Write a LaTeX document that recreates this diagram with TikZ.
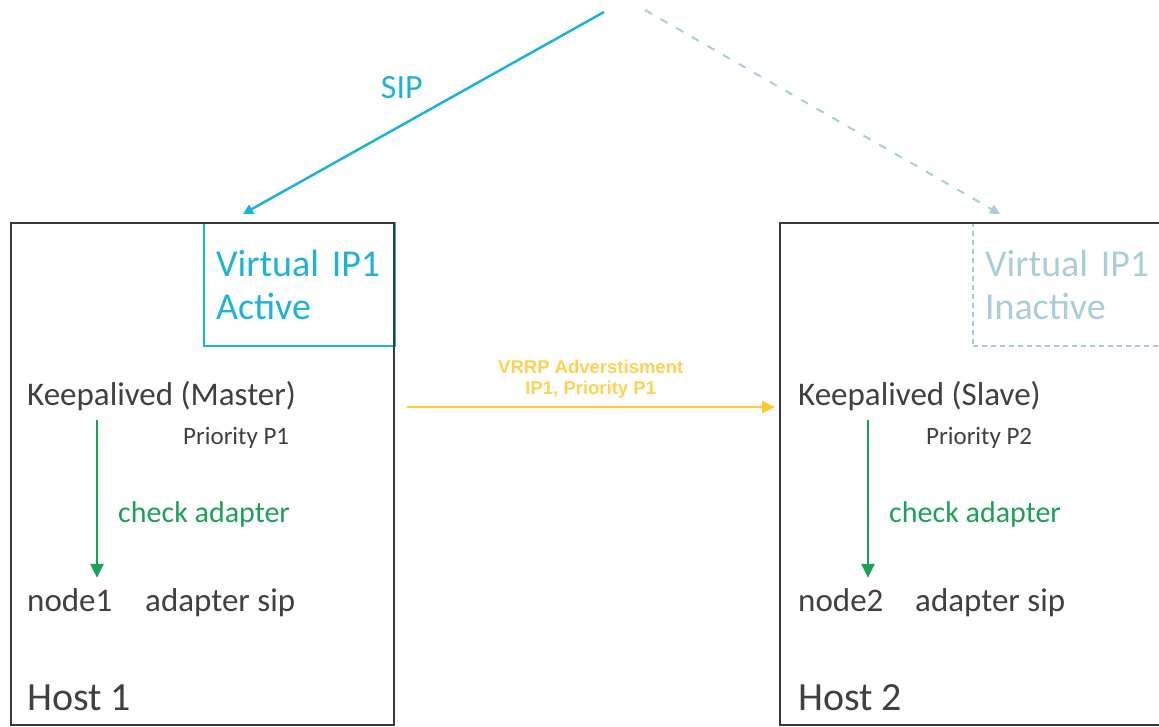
\documentclass[tikz,border=0pt]{standalone}
\usepackage{fontspec}
\setmainfont{Carlito}
\newfontfamily\arialfont{Liberation Sans}
\usepackage{xcolor}
\usetikzlibrary{arrows.meta, positioning}

\definecolor{sipblue}{HTML}{1DB2D9}
\definecolor{paleblue}{HTML}{A9CDD9}
\definecolor{textgray}{HTML}{404040}
\definecolor{boxgray}{HTML}{3A3A3A}
\definecolor{checkgreen}{HTML}{1BA157}
\definecolor{vrrpyellow}{HTML}{FFC933}

\begin{document}
\begin{tikzpicture}[
    x=1pt, y=-1pt,
    hostbox/.style={draw=boxgray, line width=1.5pt, anchor=north west, minimum height=502, inner sep=0pt},
    vipbox/.style={anchor=north west, minimum height=123, inner ysep=0pt, align=left, font=\fontsize{38}{43}\selectfont},
    label/.style={anchor=base west, inner sep=0pt, text=textgray},
    sigarrow/.style={-{Triangle[length=10pt, width=10pt]}, line width=2.5pt},
    checkarrow/.style={-{Triangle[length=14pt, width=13pt]}, line width=2.5pt, draw=checkgreen},
    keepfont/.style={font=\fontsize{33}{40}\selectfont},
    priofont/.style={font=\fontsize{25}{30}\selectfont},
    checklabel/.style={anchor=base west, inner sep=0pt, text=checkgreen, font=\fontsize{30}{36}\selectfont}
]
\clip (0,0) rectangle (1159,726);

% Virtual IP boxes (drawn first, host frames go over them)
\node[vipbox, draw=sipblue, line width=2pt, text=sipblue, minimum width=191, inner xsep=12pt, text width=167pt] (vip1) at (203,222) {Virtual IP1\\Active};
\node[vipbox, draw=paleblue, line width=2pt, dash pattern=on 5pt off 4pt, text=paleblue, minimum width=200, inner xsep=12pt, text width=176pt] (vip2) at (972,222) {Virtual IP1\\Inactive};

% Hosts
\node[hostbox, minimum width=383] (host1) at (10,222) {};
\node[hostbox, minimum width=420] (host2) at (779,222) {};

% Host 1 content
\node[label, keepfont] (keep1) at (27,405) {Keepalived (Master)};
\node[label, priofont] (prio1) at (183,444) {Priority P1};
\node[checklabel] (check1) at (118,522) {check adapter};
\node[label, keepfont] (node1) at (27,611) {node1};
\node[label, keepfont] (adapt1) at (145,611) {adapter sip};
\node[label, font=\fontsize{40}{48}\selectfont] (hostname1) at (27,710) {Host 1};

% Host 2 content
\node[label, keepfont] (keep2) at (798,405) {Keepalived (Slave)};
\node[label, priofont] (prio2) at (926,444) {Priority P2};
\node[checklabel] (check2) at (889,522) {check adapter};
\node[label, keepfont] (node2) at (798,611) {node2};
\node[label, keepfont] (adapt2) at (915,611) {adapter sip};
\node[label, font=\fontsize{40}{48}\selectfont] (hostname2) at (798,710) {Host 2};

% Incoming SIP
\coordinate (sipsrc) at (604,12);
\coordinate (sipidle) at (645,10);
\draw[sigarrow, draw=sipblue] (sipsrc) -- ([shift={(40,-8)}]vip1.north west)
    node[pos=0.56, above=25pt, inner sep=0pt, text=sipblue, font=\fontsize{34}{40}\selectfont] {SIP};
\draw[sigarrow, draw=paleblue, line width=2pt, dash pattern=on 8pt off 10pt] (sipidle) -- ([shift={(28,-8)}]vip2.north west);

% Check arrows
\draw[checkarrow] ([shift={(70,9)}]keep1.south west) -- ([shift={(70,-10)}]node1.north west);
\draw[checkarrow] ([shift={(70,9)}]keep2.south west) -- ([shift={(70,-10)}]node2.north west);

% VRRP advertisement
\draw[-{Triangle[length=13pt, width=12pt]}, line width=2pt, draw=vrrpyellow] ([shift={(12,185)}]host1.north east) -- ([shift={(-4,185)}]host2.north west)
    node[midway, above=8pt, align=center, inner sep=0pt, text=vrrpyellow!85!white, font=\arialfont\bfseries\fontsize{18.5}{21}\selectfont] {VRRP Adverstisment\\IP1, Priority P1};
\end{tikzpicture}
\end{document}
